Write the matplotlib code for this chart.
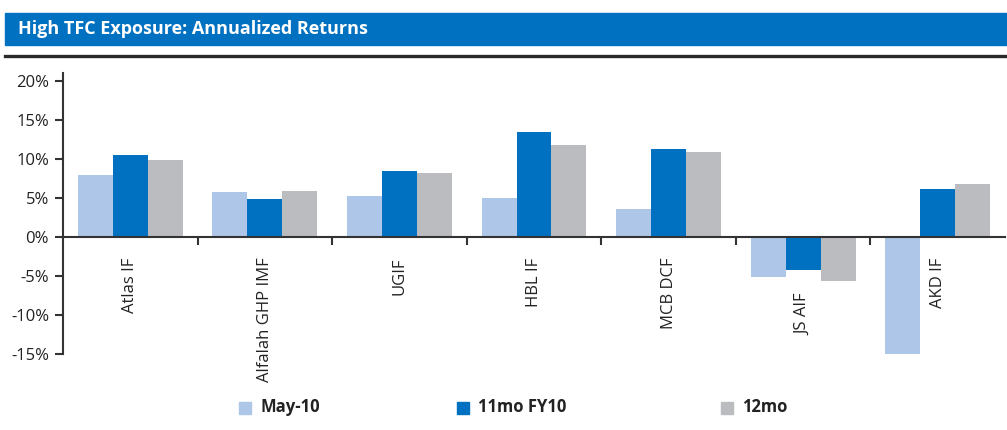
import numpy as np
import matplotlib
matplotlib.use("Agg")
import matplotlib.pyplot as plt
import matplotlib.transforms as mtransforms
from matplotlib.patches import Rectangle
from matplotlib.lines import Line2D

plt.rcParams['font.family'] = ['Liberation Sans Narrow', 'Open Sans', 'DejaVu Sans']

# data (annualized returns, %)
funds = ["Atlas IF", "Alfalah GHP IMF", "UGIF", "HBL IF", "MCB DCF", "JS AIF", "AKD IF"]
may10 = [7.9, 5.8, 5.3, 5.0, 3.6, -5.1, -15.0]
fy10_11mo = [10.5, 4.9, 8.5, 13.4, 11.2, -4.3, 6.2]
mo12 = [9.8, 5.9, 8.2, 11.8, 10.9, -5.6, 6.8]
series_names = ["May-10", "11mo FY10", "12mo"]
colors = ["#AEC6E8", "#0070C0", "#BBBCC0"]

W, H = 1007, 430
fig = plt.figure(figsize=(W / 100, H / 100), dpi=100)

# header bar
fig.patches.append(Rectangle((5 / W, 1 - 45 / H), 1 - 5 / W, 32 / H,
                             transform=fig.transFigure, color="#0070C0", zorder=0))
fig.text(18 / W, 1 - 29 / H, "High TFC Exposure: Annualized Returns",
         color="white", fontsize=13, fontweight="bold", va="center", ha="left")
fig.add_artist(Line2D([5 / W, 1], [1 - 56 / H, 1 - 56 / H], transform=fig.transFigure,
                      color="#2a2a2a", lw=2.4))

ax = fig.add_axes([63 / W, 1 - 354 / H, (1005 - 63) / W, (354 - 73) / H])

x = np.arange(len(funds))
bw = 0.26
for k, vals in enumerate([may10, fy10_11mo, mo12]):
    ax.bar(x + (k - 1) * bw, vals, width=bw, color=colors[k], zorder=1)

ax.set_xlim(-0.5, len(funds) - 0.5)
ax.set_ylim(-15, 21)
ax.set_yticks(np.arange(-15, 21, 5))
ax.set_yticklabels([f"{v}%" for v in range(-15, 21, 5)])

for s in ["top", "right"]:
    ax.spines[s].set_visible(False)
ax.spines['bottom'].set_position(('data', 0))
ax.spines['bottom'].set_color("#333333")
ax.spines['bottom'].set_linewidth(1.5)
ax.spines['bottom'].set_zorder(3)
ax.spines['left'].set_color("#333333")
ax.spines['left'].set_linewidth(1.5)

ax.set_xticks(x)
ax.set_xticklabels(funds, rotation=90, va="top", ha="center")
ax.set_xticks(np.arange(0.5, len(funds) - 0.5, 1), minor=True)
ax.tick_params(axis="x", which="major", length=0, pad=15, labelsize=12, labelcolor="#222222")
ax.tick_params(axis="x", which="minor", length=6, width=1.5, color="#333333", direction="out")
ax.tick_params(axis="y", length=6, width=1.5, color="#333333", pad=4,
               labelsize=12, labelcolor="#222222")

# JS AIF label sits below its bars
lbl = ax.get_xticklabels()[5]
lbl.set_transform(lbl.get_transform() + mtransforms.ScaledTranslation(0, -0.36, fig.dpi_scale_trans))

# legend entries
leg_x = [239, 457, 721]
for name, c, lx in zip(series_names, colors, leg_x):
    fig.patches.append(Rectangle((lx / W, 1 - 414 / H), 12 / W, 12 / H,
                                 transform=fig.transFigure, color=c))
    fig.text((lx + 21) / W, 1 - 407 / H, name, fontsize=12, fontweight="bold",
             color="#222222", va="center", ha="left")

fig.savefig("out.png", dpi=100)
